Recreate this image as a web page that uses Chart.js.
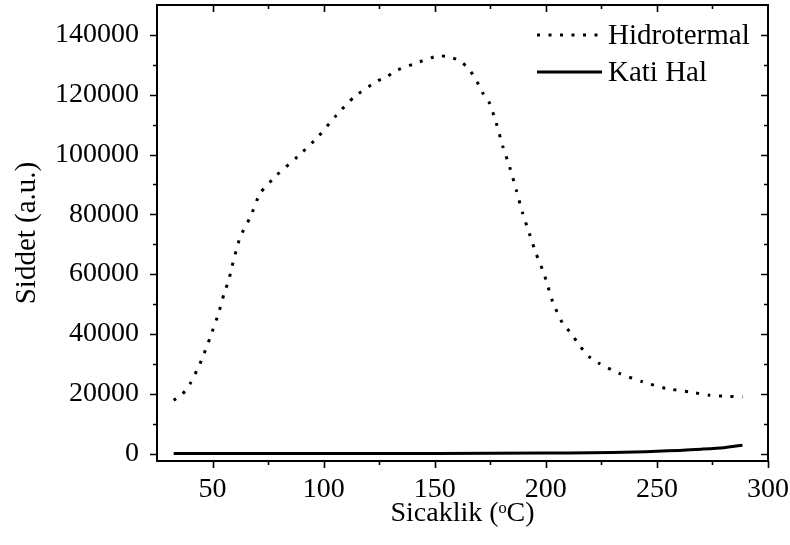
<!DOCTYPE html>
<html>
<head>
<meta charset="utf-8">
<script src="https://cdn.jsdelivr.net/npm/chart.js@4"></script>
<style>
  html, body { margin: 0; padding: 0; background: #ffffff; }
  #wrap { width: 790px; height: 545px; }
</style>
</head>
<body>
<div id="wrap"><canvas id="c" width="790" height="545"></canvas></div>
<script>
// ---- data ----
const hidroX = [32.5, 36.5, 40, 43, 45.2, 49, 52.7, 55.2, 57.3, 58.7, 62.4, 67.2, 71.4, 78.9, 88.3, 97.6, 105.8, 114, 123.8, 128.3, 133.5, 143.2, 151.5, 156, 161.2, 165.7, 169, 171.7, 174.7, 177.7, 180.7, 183.7, 186.7, 189.6, 192.6, 195.6, 198.6, 200.1, 203.1, 207.6, 211.4, 215.1, 219.6, 224.1, 233, 243.5, 254, 264.5, 273.5, 279.5, 288.5];
const hidroY = [17800, 19900, 23500, 27900, 31500, 39000, 46900, 53500, 58000, 62400, 72300, 79400, 87000, 93100, 99300, 106000, 113200, 119400, 124400, 126000, 128300, 131000, 133000, 132700, 131400, 128300, 124400, 120500, 117100, 110500, 102600, 95900, 88100, 80300, 73600, 66900, 61300, 58000, 50700, 43500, 40200, 36200, 32300, 30100, 26800, 24000, 21800, 20600, 19500, 19200, 18900];
const katiX = [32.5, 60, 100, 150, 200, 220, 240, 250, 260, 270, 280, 288.5];
const katiY = [0, 0, 0, 50, 150, 250, 500, 750, 1050, 1450, 1950, 2800];
const seriesNames = ["Hidrotermal", "Kati Hal"];
const xTickLabels = [50, 100, 150, 200, 250, 300];
const yTickLabels = [0, 20000, 40000, 60000, 80000, 100000, 120000, 140000];
const xMinorTicks = [75, 125, 175, 225, 275];
const yMinorTicks = [10000, 30000, 50000, 70000, 90000, 110000, 130000];
const xTitle = "Sicaklik (\u1D52C)";
const yTitle = "Siddet (a.u.)";

const FONT = "'Liberation Serif', 'Times New Roman', serif";

const toPts = (xs, ys) => xs.map((x, i) => ({ x: x, y: ys[i] }));

const framePlugin = {
  id: 'frame',
  afterDraw(chart) {
    const ctx = chart.ctx;
    const a = chart.chartArea;
    const xs = chart.scales.x, ys = chart.scales.y;
    ctx.save();
    ctx.strokeStyle = '#000';
    ctx.lineWidth = 2;
    ctx.setLineDash([]);
    ctx.strokeRect(a.left, a.top, a.right - a.left, a.bottom - a.top);
    ctx.lineWidth = 1.6;
    const MAJ = 7, MIN = 4;
    ctx.beginPath();
    xTickLabels.forEach(v => {
      const p = Math.round(xs.getPixelForValue(v)) + 0.5;
      ctx.moveTo(p, a.bottom); ctx.lineTo(p, a.bottom + MAJ);
      if (p < a.right - 1) { ctx.moveTo(p, a.top); ctx.lineTo(p, a.top + MAJ); }
    });
    xMinorTicks.forEach(v => {
      const p = Math.round(xs.getPixelForValue(v)) + 0.5;
      ctx.moveTo(p, a.bottom); ctx.lineTo(p, a.bottom + MIN);
      ctx.moveTo(p, a.top); ctx.lineTo(p, a.top + MIN);
    });
    yTickLabels.forEach(v => {
      const p = Math.round(ys.getPixelForValue(v)) + 0.5;
      ctx.moveTo(a.left, p); ctx.lineTo(a.left - MAJ, p);
      ctx.moveTo(a.right, p); ctx.lineTo(a.right - MAJ, p);
    });
    yMinorTicks.forEach(v => {
      const p = Math.round(ys.getPixelForValue(v)) + 0.5;
      ctx.moveTo(a.left, p); ctx.lineTo(a.left - MIN, p);
      ctx.moveTo(a.right, p); ctx.lineTo(a.right - MIN, p);
    });
    ctx.stroke();

    // legend inside the plot, top right
    const items = chart.data.datasets;
    ctx.font = "29px " + FONT;
    ctx.fillStyle = '#000';
    ctx.textBaseline = 'middle';
    ctx.textAlign = 'left';
    const lx0 = 537, lx1 = 602, tx = 608;
    const rowY = [35, 72];
    items.forEach((ds, i) => {
      const y = rowY[i];
      ctx.lineWidth = ds.borderWidth;
      ctx.setLineDash(ds.borderDash || []);
      ctx.lineCap = 'butt';
      ctx.beginPath();
      ctx.moveTo(lx0, y); ctx.lineTo(lx1, y);
      ctx.stroke();
      ctx.setLineDash([]);
      ctx.fillText(ds.label, tx, y + 1);
    });
    ctx.restore();
  }
};

new Chart(document.getElementById('c'), {
  type: 'line',
  data: {
    datasets: [
      {
        label: seriesNames[0],
        data: toPts(hidroX, hidroY),
        borderColor: '#000',
        borderWidth: 3,
        borderDash: [3, 8.5],
        pointRadius: 0,
        fill: false,
        tension: 0.2
      },
      {
        label: seriesNames[1],
        data: toPts(katiX, katiY),
        borderColor: '#000',
        borderWidth: 3,
        pointRadius: 0,
        fill: false,
        tension: 0.2
      }
    ]
  },
  options: {
    responsive: false,
    animation: false,
    devicePixelRatio: 1,
    layout: { padding: { top: 5, right: 22, left: 0, bottom: 0 } },
    plugins: {
      legend: { display: false },
      tooltip: { enabled: false }
    },
    scales: {
      x: {
        type: 'linear',
        min: 25, max: 300,
        afterBuildTicks: s => { s.ticks = xTickLabels.map(v => ({ value: v })); },
        afterFit: s => { s.height = 84; s.paddingLeft = 0; s.paddingRight = 0; },
        grid: { display: false, drawTicks: false },
        border: { display: false },
        ticks: {
          color: '#000',
          font: { family: FONT, size: 28 },
          padding: 12,
          maxRotation: 0,
          autoSkip: false
        },
        title: {
          display: true,
          text: xTitle,
          color: '#000',
          font: { family: FONT, size: 28 },
          padding: { top: 0, bottom: 15 }
        }
      },
      y: {
        type: 'linear',
        min: -2500, max: 150000,
        afterBuildTicks: s => { s.ticks = yTickLabels.map(v => ({ value: v })); },
        afterFit: s => { s.width = 157; s.paddingTop = 0; s.paddingBottom = 0; },
        grid: { display: false, drawTicks: false },
        border: { display: false },
        ticks: {
          color: '#000',
          font: { family: FONT, size: 28 },
          padding: 18,
          autoSkip: false,
          callback: v => String(v)
        },
        title: {
          display: true,
          text: yTitle,
          color: '#000',
          font: { family: FONT, size: 29 },
          padding: { top: 10, bottom: 0 }
        }
      }
    }
  },
  plugins: [framePlugin]
});
</script>
</body>
</html>
